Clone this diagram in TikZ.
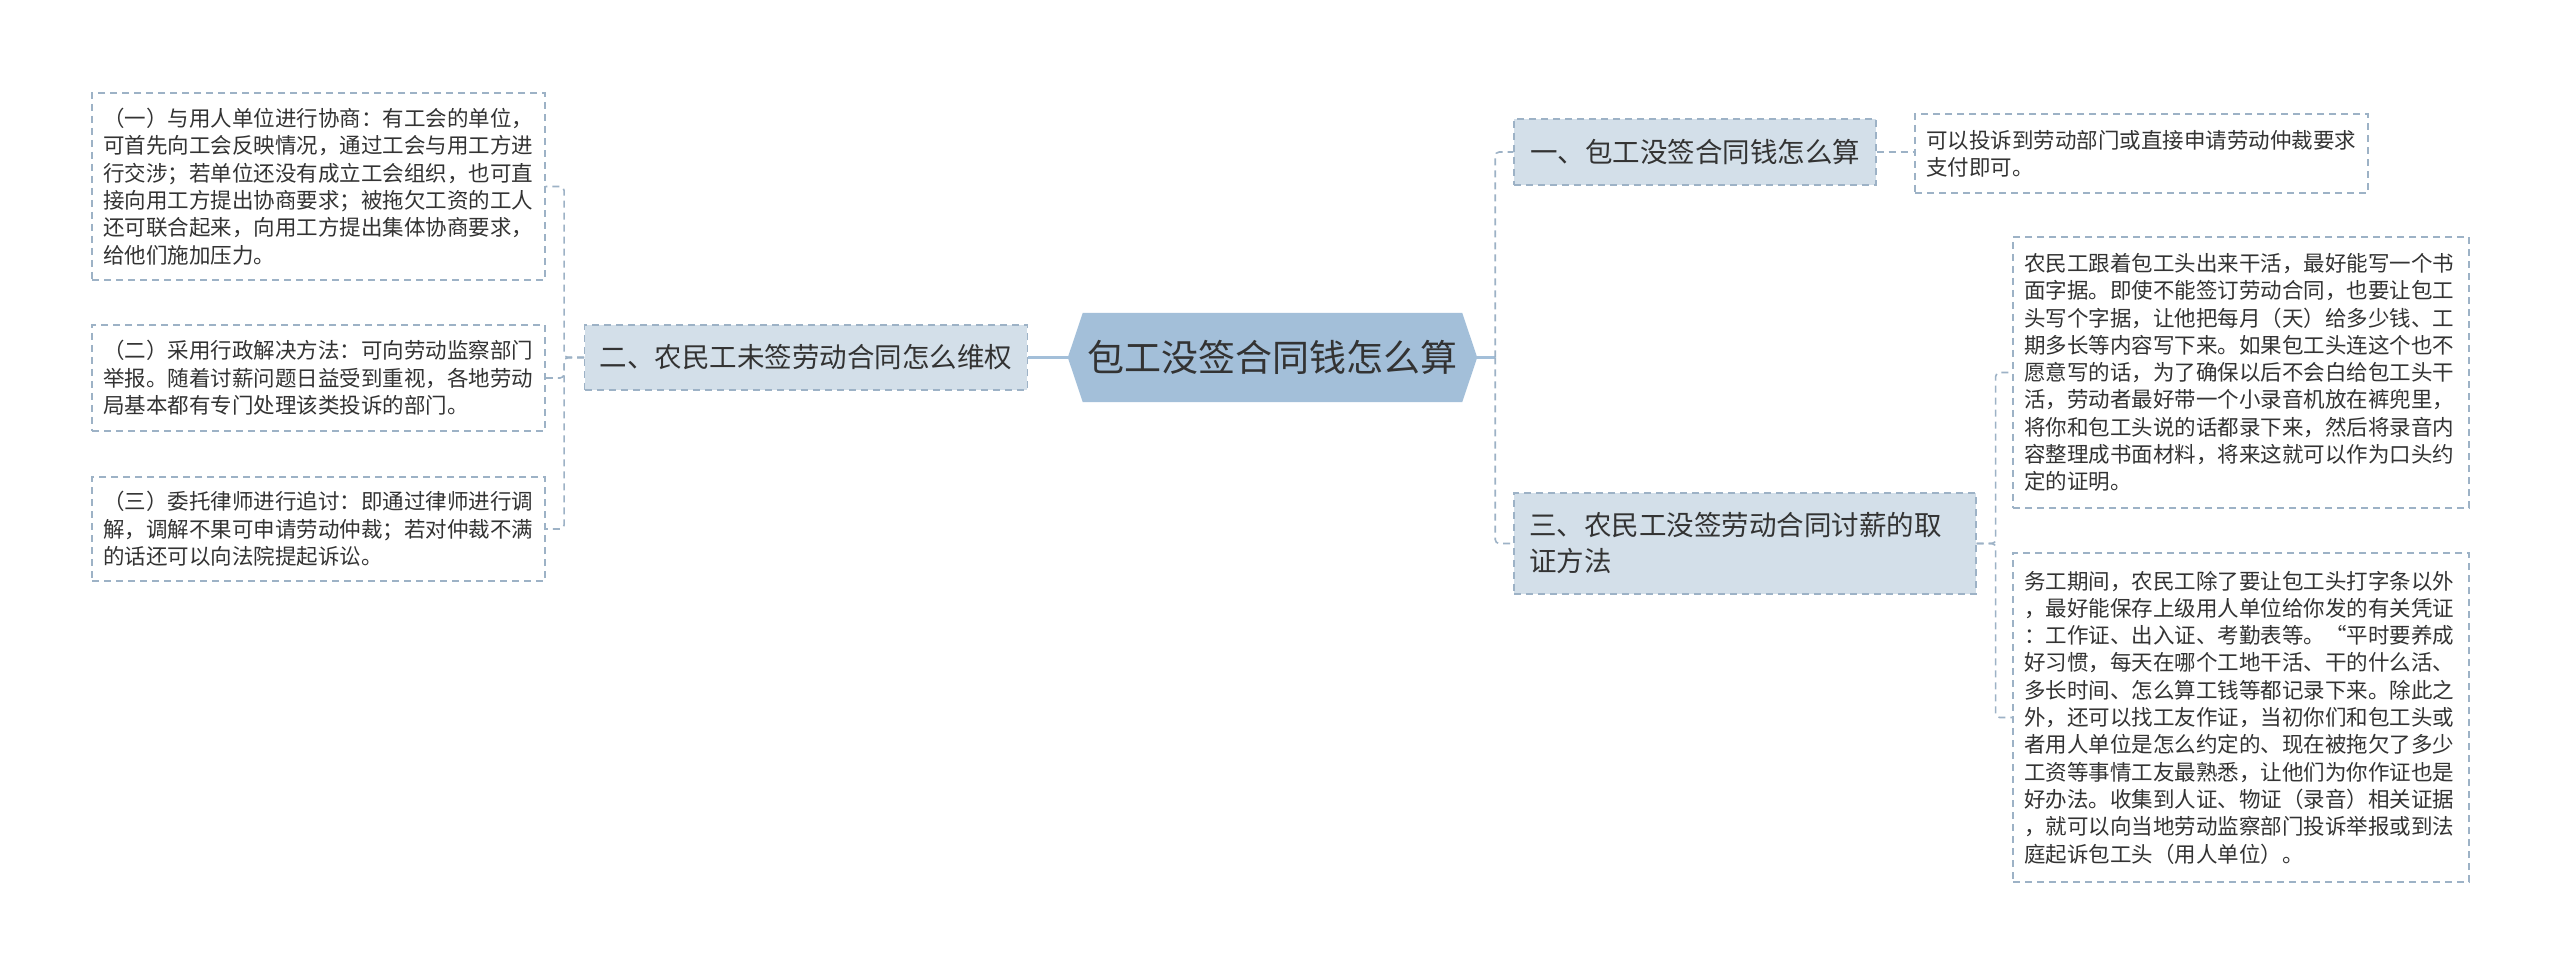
\documentclass[tikz,border=0pt]{standalone}
\usepackage{fontspec}
\setmainfont{Noto Sans CJK SC}
\usepackage{tikz}
\usetikzlibrary{positioning,backgrounds,calc}
\definecolor{hexblue}{HTML}{A3BFD9}
\definecolor{branchfill}{HTML}{D3DFE9}
\definecolor{dashgray}{HTML}{9DB2C6}
\definecolor{textgray}{HTML}{333333}

\begin{document}
\begin{tikzpicture}[x=1pt,y=-1pt,
    topic/.style={minimum width=379pt, minimum height=89pt, inner sep=0pt,
        text=textgray, font=\fontsize{37}{44}\selectfont},
    branch/.style={draw=dashgray, fill=branchfill, line width=1.3pt,
        dash pattern=on 7pt off 5pt, inner xsep=15pt, inner ysep=0pt,
        align=left, text=textgray, font=\fontsize{27.5}{36}\selectfont},
    leaf/.style={draw=dashgray, fill=white, line width=1.3pt,
        dash pattern=on 7pt off 5pt, inner xsep=11pt, inner ysep=0pt,
        align=left, text=textgray, font=\fontsize{21.5}{27.3}\selectfont},
    trunk/.style={draw=hexblue, line width=3pt},
    link/.style={draw=dashgray, line width=1.6pt, dash pattern=on 7pt off 5pt,
        rounded corners=4pt}]
    \useasboundingbox (0,0) rectangle (2560,973);

    % centre
    \node[topic] (cen) at (1272.5,357.5) {包工没签合同钱怎么算};
    \coordinate (cenL) at ($(cen.west)+(-15,0)$);
    \coordinate (cenR) at ($(cen.east)+(15,0)$);

    % main branches
    \node[branch, minimum width=442pt, minimum height=65pt] (b2) at (806,357.5)
        {二、农民工未签劳动合同怎么维权};
    \node[branch, minimum width=362pt, minimum height=66pt] (b1) at (1695,152)
        {一、包工没签合同钱怎么算};
    \node[branch, text width=432pt, minimum height=101pt] (b3) at (1745,543.5)
        {三、农民工没签劳动合同讨薪的取\\证方法};

    % left leaves
    \node[leaf, text width=431pt, minimum height=187pt] (l1) at (318.5,186.5)
        {（一）与用人单位进行协商：有工会的单位，\\
         可首先向工会反映情况，通过工会与用工方进\\
         行交涉；若单位还没有成立工会组织，也可直\\
         接向用工方提出协商要求；被拖欠工资的工人\\
         还可联合起来，向用工方提出集体协商要求，\\
         给他们施加压力。};
    \node[leaf, text width=431pt, minimum height=106pt] (l2) at (318.5,378)
        {（二）采用行政解决方法：可向劳动监察部门\\
         举报。随着讨薪问题日益受到重视，各地劳动\\
         局基本都有专门处理该类投诉的部门。};
    \node[leaf, text width=431pt, minimum height=104pt] (l3) at (318.5,529)
        {（三）委托律师进行追讨：即通过律师进行调\\
         解，调解不果可申请劳动仲裁；若对仲裁不满\\
         的话还可以向法院提起诉讼。};

    % right leaves
    \node[leaf, text width=431pt, minimum height=79pt] (r1) at (2141.5,153.5)
        {可以投诉到劳动部门或直接申请劳动仲裁要求\\
         支付即可。};
    \node[leaf, text width=434pt, minimum height=271pt] (r2) at (2241,372.5)
        {农民工跟着包工头出来干活，最好能写一个书\\
         面字据。即使不能签订劳动合同，也要让包工\\
         头写个字据，让他把每月（天）给多少钱、工\\
         期多长等内容写下来。如果包工头连这个也不\\
         愿意写的话，为了确保以后不会白给包工头干\\
         活，劳动者最好带一个小录音机放在裤兜里，\\
         将你和包工头说的话都录下来，然后将录音内\\
         容整理成书面材料，将来这就可以作为口头约\\
         定的证明。};
    \node[leaf, text width=434pt, minimum height=329pt] (r3) at (2241,717.5)
        {务工期间，农民工除了要让包工头打字条以外\\
         ，最好能保存上级用人单位给你发的有关凭证\\
         ：工作证、出入证、考勤表等。“平时要养成\\
         好习惯，每天在哪个工地干活、干的什么活、\\
         多长时间、怎么算工钱等都记录下来。除此之\\
         外，还可以找工友作证，当初你们和包工头或\\
         者用人单位是怎么约定的、现在被拖欠了多少\\
         工资等事情工友最熟悉，让他们为你作证也是\\
         好办法。收集到人证、物证（录音）相关证据\\
         ，就可以向当地劳动监察部门投诉举报或到法\\
         庭起诉包工头（用人单位）。};

    % hexagon behind the centre text
    \begin{scope}[on background layer]
        \fill[white] (0,0) rectangle (2560,973);
        \fill[hexblue] (cen.north west) -- (cen.north east) -- (cenR)
            -- (cen.south east) -- (cen.south west) -- (cenL) -- cycle;
    \end{scope}

    % connectors
    \draw[trunk] (cenL) -- (b2.east);
    \draw[trunk] (cenR) -- ++(18,0) coordinate (rj);
    \foreach \n in {b1,b3}{\draw[link] (rj) |- (\n.west);}
    \foreach \n in {l1,l2,l3}{\draw[link] (b2.west) -- ++(-20,0) |- (\n.east);}
    \draw[link] (b1.east) -- (b1.east -| r1.west);
    \foreach \n in {r2,r3}{\draw[link] (b3.east) -- ++(19,0) |- (\n.west);}
\end{tikzpicture}
\end{document}
